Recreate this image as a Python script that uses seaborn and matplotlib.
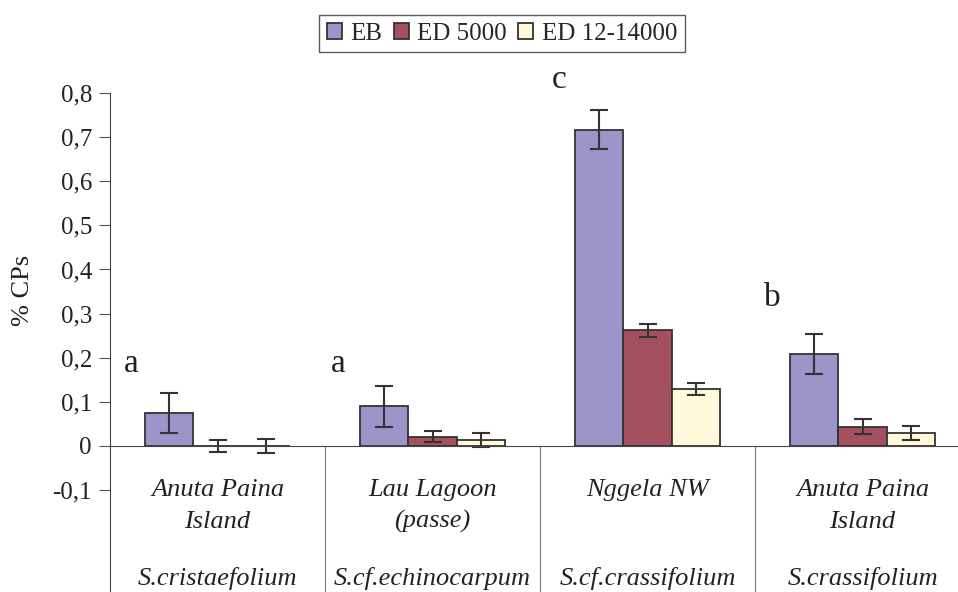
import numpy as np
import pandas as pd
import matplotlib.pyplot as plt
import seaborn as sns

sites = ["Anuta Paina\nIsland", "Lau Lagoon\n(passe)", "Nggela NW", "Anuta Paina\nIsland"]
species = ["S.cristaefolium", "S.cf.echinocarpum", "S.cf.crassifolium", "S.crassifolium"]
groups = ["EB", "ED 5000", "ED 12-14000"]

eb = [0.075, 0.090, 0.717, 0.208]
ed5000 = [0.0, 0.021, 0.262, 0.044]
ed12 = [0.0, 0.013, 0.129, 0.029]

eb_err = [0.045, 0.047, 0.045, 0.045]
ed5000_err = [0.014, 0.013, 0.014, 0.016]
ed12_err = [0.015, 0.016, 0.014, 0.016]

letters = ["a", "a", "c", "b"]
letter_x = [-0.40, 0.56, 1.59, 2.58]
letter_y = [0.168, 0.168, 0.812, 0.318]

colors = ["#9b95c9", "#a5505e", "#fff9d9"]

sns.set_style("white")
plt.rcParams['font.family'] = ['Liberation Serif', 'DejaVu Serif']

df = pd.DataFrame({
    "cat": np.repeat(np.arange(4), 3),
    "group": groups * 4,
    "val": np.ravel(np.column_stack([eb, ed5000, ed12])),
    "err": np.ravel(np.column_stack([eb_err, ed5000_err, ed12_err])),
})

fig = plt.figure(figsize=(9.58, 5.92), dpi=100)
ax = fig.add_axes([110 / 958, 0, 860 / 958, 499 / 592])

sns.barplot(data=df, x="cat", y="val", hue="group", hue_order=groups,
            palette=colors, width=0.67, gap=0, edgecolor="#333333",
            linewidth=1.3, saturation=1, ax=ax, legend=True)

# error bars at bar centres
for gi, g in enumerate(groups):
    cont = ax.containers[gi]
    sub = df[df.group == g]
    xs = [p.get_x() + p.get_width() / 2 for p in cont.patches]
    ax.errorbar(xs, sub.val, yerr=sub.err, fmt="none", ecolor="#333333",
                elinewidth=1.5, capsize=6.5, capthick=1.5)

ticks = np.round(np.arange(-0.1, 0.81, 0.1), 1)
ax.set_xlim(-0.5, 3.5)
ax.set_ylim(-0.331, 0.8)
ax.set_yticks(ticks)
ax.set_yticklabels(["0" if t == 0 else ("%.1f" % t).replace(".", ",") for t in ticks],
                   fontsize=18, color="#222222")
ax.set_xticks([0.5, 1.5, 2.5])
ax.set_xticklabels([])
ax.set_xlabel("")
ax.set_ylabel("% CPs", fontsize=19, color="#222222")
ax.yaxis.set_label_coords(-0.088, 0.605)

for s in ["top", "right"]:
    ax.spines[s].set_visible(False)
ax.spines["bottom"].set_position(("data", 0))
ax.spines["bottom"].set_color("#444444")
ax.spines["left"].set_color("#444444")
ax.tick_params(axis="y", length=8, color="#555555", direction="out", left=True, pad=5)
ax.tick_params(axis="x", length=106, color="#777777", direction="out", bottom=True)

for i in range(4):
    lines = sites[i].split("\n")
    ax.text(i, -0.1, lines[0], ha="center", va="center",
            style="italic", fontsize=19, color="#222222")
    if len(lines) > 1:
        ax.text(i, -0.172, lines[1], ha="center", va="center",
                style="italic", fontsize=19, color="#222222")
    ax.text(i, -0.30, species[i], ha="center", va="center",
            style="italic", fontsize=19, color="#222222")

for t, x, y in zip(letters, letter_x, letter_y):
    ax.text(x, y, t, ha="center", va="baseline", fontsize=24, color="#222222")

h, l = ax.get_legend_handles_labels()
ax.get_legend().remove()
fig.legend(h, l, loc="center", bbox_to_anchor=(502 / 958, 1 - 33.5 / 592),
           ncol=3, fontsize=18, frameon=True, fancybox=False, edgecolor="#333333",
           handlelength=0.6, handleheight=0.6, handletextpad=0.35, columnspacing=0.45,
           borderpad=0.3, borderaxespad=0)

fig.savefig("out.png", dpi=100)
